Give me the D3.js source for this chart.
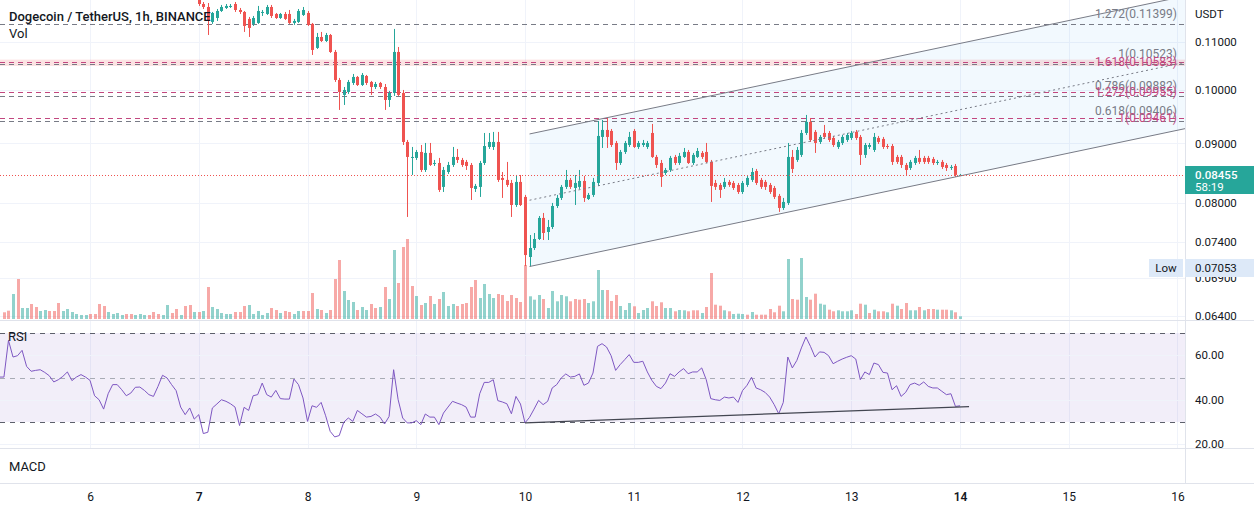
<!DOCTYPE html>
<html><head><meta charset="utf-8">
<script src="https://cdn.jsdelivr.net/npm/d3@7"></script>
<style>
html,body{margin:0;padding:0;background:#fff;}
svg{display:block;font-family:Roboto,"Noto Sans",sans-serif;}
</style></head><body>
<svg id="c" width="1254" height="511"></svg>
<script>
// ---------------- DATA ----------------
const title = "Dogecoin / TetherUS, 1h, BINANCE";
const HOUR = 3600e3;
const day10 = Date.UTC(2021, 5, 10);
// candles: hourly from 2021-06-07 00:00 UTC
const candleStart = Date.UTC(2021, 5, 7);
const open = [
0.12004,0.11862,0.11792,0.11448,0.11538,0.11699,0.11769,0.11792,0.11862,0.11722,
0.11676,0.11516,0.11403,0.11425,0.11653,0.11630,0.11792,0.11630,0.11538,0.11630,
0.11630,0.11425,0.11448,0.11607,0.11653,0.11403,0.10873,0.11112,0.11024,0.11156,
0.10787,0.10205,0.09907,0.09965,0.10145,0.10266,0.10104,0.10286,0.10165,0.10064,
0.10145,0.10064,0.09809,0.09946,0.10787,0.09946,0.09026,0.08745,0.08745,0.08849,
0.08539,0.08832,0.08641,0.08658,0.08257,0.08505,0.08624,0.08762,0.08710,0.08676,
0.08624,0.08224,0.08257,0.08658,0.08937,0.08937,0.09026,0.08405,0.08372,0.08322,
0.07967,0.08339,0.08095,0.07187,0.07316,0.07448,0.07765,0.07552,0.07627,0.07951,
0.08079,0.08257,0.08372,0.08240,0.08257,0.08355,0.08062,0.08127,0.08322,0.09116,
0.09243,0.09225,0.09008,0.08658,0.08849,0.08972,0.09225,0.08937,0.08972,0.08937,
0.09188,0.08762,0.08658,0.08488,0.08539,0.08762,0.08658,0.08762,0.08849,0.08658,
0.08762,0.08832,0.08849,0.08676,0.08322,0.08289,0.08257,0.08339,0.08322,0.08289,
0.08175,0.08289,0.08372,0.08522,0.08372,0.08339,0.08289,0.08240,0.08111,0.07920,
0.07999,0.08762,0.08710,0.08797,0.09188,0.09391,0.09207,0.09026,0.09188,0.09188,
0.09098,0.08937,0.09008,0.09062,0.09098,0.09207,0.09116,0.08797,0.08937,0.08884,
0.09098,0.09080,0.08954,0.08954,0.08762,0.08762,0.08624,0.08573,0.08658,0.08745,
0.08745,0.08745,0.08727,0.08658,0.08676,0.08624,0.08573,0.08607,0.08438];
const high = [
0.12100,0.11909,0.11885,0.11676,0.11745,0.11839,0.11862,0.11862,0.11909,0.11769,
0.11699,0.11561,0.11584,0.11816,0.11722,0.11839,0.11839,0.11653,0.11653,0.11676,
0.11722,0.11516,0.11745,0.11792,0.11699,0.11425,0.11201,0.11223,0.11201,0.11178,
0.10830,0.10246,0.10064,0.10205,0.10327,0.10286,0.10347,0.10307,0.10185,0.10165,
0.10165,0.10124,0.09985,0.11290,0.10894,0.10005,0.09062,0.08937,0.08884,0.08972,
0.09008,0.09008,0.08710,0.08745,0.08590,0.08676,0.08937,0.08902,0.08745,0.08710,
0.08658,0.08306,0.08693,0.09188,0.09188,0.09207,0.09207,0.08505,0.08676,0.08372,
0.08455,0.08455,0.08127,0.07507,0.07537,0.07795,0.07842,0.07734,0.07999,0.08127,
0.08289,0.08539,0.08405,0.08455,0.08539,0.08438,0.08159,0.08405,0.09409,0.09428,
0.09465,0.09261,0.09044,0.08884,0.09044,0.09207,0.09261,0.09044,0.09062,0.09044,
0.09354,0.08797,0.08710,0.08573,0.08780,0.08797,0.08832,0.08919,0.08884,0.08832,
0.08919,0.08866,0.09008,0.08710,0.08372,0.08322,0.08405,0.08372,0.08355,0.08322,
0.08355,0.08438,0.08573,0.08556,0.08405,0.08372,0.08322,0.08273,0.08143,0.08079,
0.09008,0.08884,0.08937,0.09243,0.09522,0.09465,0.09243,0.09152,0.09335,0.09225,
0.09134,0.09062,0.09152,0.09188,0.09225,0.09243,0.09152,0.09008,0.09008,0.09188,
0.09134,0.09116,0.08990,0.08990,0.08797,0.08797,0.08658,0.08710,0.08780,0.08884,
0.08780,0.08780,0.08762,0.08710,0.08710,0.08658,0.08624,0.08641,0.08472];
const low = [
0.11816,0.11745,0.11156,0.11403,0.11470,0.11676,0.11745,0.11769,0.11676,0.11630,
0.11223,0.11112,0.11357,0.11403,0.11584,0.11607,0.11538,0.11516,0.11516,0.11493,
0.11403,0.11380,0.11425,0.11584,0.11357,0.10723,0.10851,0.11002,0.11002,0.10766,
0.10165,0.09617,0.09712,0.09926,0.10104,0.10084,0.10084,0.10104,0.09907,0.10024,
0.10024,0.09617,0.09674,0.09887,0.09887,0.08972,0.07780,0.08455,0.08710,0.08505,
0.08505,0.08607,0.08607,0.08175,0.08175,0.08472,0.08590,0.08658,0.08590,0.08539,
0.08046,0.08175,0.08095,0.08624,0.08902,0.08884,0.08339,0.08079,0.08257,0.07780,
0.07936,0.07951,0.07060,0.07053,0.07287,0.07433,0.07433,0.07433,0.07597,0.07920,
0.08046,0.08224,0.08224,0.07967,0.08224,0.08015,0.08046,0.08095,0.08273,0.08919,
0.08919,0.08937,0.08539,0.08624,0.08814,0.08937,0.08919,0.08902,0.08937,0.08902,
0.08745,0.08573,0.08257,0.08455,0.08505,0.08624,0.08624,0.08745,0.08641,0.08624,
0.08745,0.08727,0.08658,0.08015,0.08208,0.08079,0.08224,0.08257,0.08208,0.08143,
0.08143,0.08257,0.08339,0.08289,0.08224,0.08208,0.08143,0.08062,0.07858,0.07889,
0.07967,0.08488,0.08676,0.08762,0.09152,0.09026,0.08832,0.08990,0.09080,0.09026,
0.08937,0.08902,0.08972,0.09026,0.09062,0.09062,0.08624,0.08745,0.08902,0.08849,
0.08990,0.08902,0.08902,0.08624,0.08641,0.08573,0.08455,0.08539,0.08624,0.08641,
0.08641,0.08641,0.08624,0.08624,0.08556,0.08522,0.08539,0.08422,0.08438];
const close = [
0.11862,0.11792,0.11493,0.11653,0.11699,0.11792,0.11816,0.11816,0.11722,0.11676,
0.11357,0.11312,0.11538,0.11699,0.11676,0.11792,0.11584,0.11538,0.11630,0.11516,
0.11425,0.11470,0.11699,0.11722,0.11380,0.10830,0.11112,0.11024,0.11156,0.10787,
0.10205,0.09965,0.10005,0.10165,0.10266,0.10104,0.10307,0.10145,0.10064,0.10124,
0.10064,0.09809,0.09946,0.10787,0.09907,0.09026,0.08762,0.08762,0.08849,0.08539,
0.08832,0.08624,0.08658,0.08208,0.08539,0.08624,0.08762,0.08710,0.08624,0.08607,
0.08240,0.08273,0.08658,0.08954,0.09026,0.09026,0.08372,0.08372,0.08289,0.07967,
0.08339,0.07967,0.07215,0.07316,0.07448,0.07765,0.07537,0.07627,0.07951,0.08079,
0.08257,0.08372,0.08257,0.08322,0.08355,0.08079,0.08127,0.08339,0.09134,0.09243,
0.09116,0.08972,0.08658,0.08849,0.09008,0.09116,0.08937,0.09008,0.09008,0.09008,
0.08762,0.08624,0.08422,0.08539,0.08745,0.08658,0.08780,0.08849,0.08658,0.08797,
0.08866,0.08762,0.08676,0.08273,0.08257,0.08208,0.08339,0.08289,0.08240,0.08175,
0.08322,0.08405,0.08505,0.08322,0.08257,0.08257,0.08175,0.08095,0.07920,0.08015,
0.08762,0.08556,0.08884,0.09188,0.09391,0.09062,0.09008,0.09116,0.09116,0.09062,
0.08972,0.09026,0.09116,0.09152,0.09188,0.09098,0.08797,0.08972,0.08972,0.09116,
0.09026,0.08937,0.08937,0.08676,0.08676,0.08624,0.08539,0.08676,0.08745,0.08676,
0.08676,0.08676,0.08658,0.08676,0.08590,0.08573,0.08590,0.08455,0.08455];
// volume (millions), hourly from 2021-06-05 05:00 UTC
const volStart = Date.UTC(2021, 5, 5, 5);
const volume = [
6.7,8.3,25,40,11,11,15,12,8,9, 8,8,16,8,10,7,5,4,4,5,
5,15,13,7,5,6,4,5,5,4, 5,4,4,7,5,4,14,6,10,4,
13,14,7,7,8,32,12,10,6,5, 5,7,7,13,14,5,8,4,6,11,
9,6,8,7,5,8,8,8,26,10, 9,6,9,40,59,28,19,17,9,12,
9,15,11,12,32,20,69,36,72,80, 33,23,14,16,23,15,20,27,13,15,
13,15,16,32,39,21,35,25,21,25, 24,18,24,21,17,54,
22.7,19.3,24,20,11,28,17.7,24,22.7,17.7,20,19.3,20,16,
17.7,49,29,29,18,24,13,9,16,12.7, 6,9,11,17.7,13,16.7,11,11,7.7,9,
8.7,7.7,8.7,8.7,6,12,46,14.3,13.3,8.7, 7.7,5,5.3,5,4.3,7,4.3,4.3,4.3,10,
6.7,13.3,7.7,60,20,19.3,61,22,19.3,25.3, 15.3,14.3,9.3,7.7,8.7,7.7,7.7,8.7,5,15.3,
14.3,6,9.3,7.7,7.7,6.7,15.3,13.3,10,16, 8.7,8.7,12,8.7,10,10,9.3,9.3,9.3,8.7,
6.7,2.7];
const volumeDir =
"dduduudduu"+"ddduuuuuud"+"ddduuuuddu"+"uuddduuddu"+"ddududuuuu"+"uddduuuuud"+
"dudduudddu"+"duddduuudu"+"udduduuddd"+"dudududuuu"+"ddddduuuud"+"dddddd"+
"uuuduuuuuddddu"+
"uuuddduuud"+"uuuddduudu"+"uddduddddu"+"duuududddd"+"dduudduudd"+"uudduuuudd"+
"ududdududd"+"uududduddu"+"du";
// RSI(14), hourly from 2021-06-05 04:00 UTC
const rsiStart = Date.UTC(2021, 5, 5, 4);
const rsi = [
50.2,50.2,66.7,59.2,59.8,62.2,55.0,52.8,53.2,53.5, 52.3,50.8,48.0,49.0,50.5,52.5,48.6,50.2,51.3,50.2,
48.7,41.8,40.0,35.8,42.7,46.8,46.8,44.5,41.8,43.0, 45.6,45.7,44.2,42.3,41.5,46.0,51.0,49.8,46.8,44.1,
36.7,33.3,36.3,31.3,33.3,24.8,25.4,36.3,38.1,40.0, 39.3,38.2,36.7,28.4,36.6,35.2,41.8,42.3,47.5,42.3,
41.2,44.2,40.5,40.3,40.3,49.3,46.8,40.8,30.3,37.3, 36.6,38.8,32.8,25.8,23.3,23.9,29.9,31.8,30.3,35.2,
33.7,32.2,32.5,33.6,32.2,29.1,32.5,53.5,40.0,31.8, 29.6,29.6,30.6,28.8,
33.6,32.2,32.2,28.8,34.0,36.7,39.3,38.5,37.8,36.7, 32.2,32.2,42.7,47.8,47.8,49.0,39.6,39.0,38.2,33.7,
41.5,38.1,29.6,32.1,35.8,39.7,37.8,39.3,45.3,46.8, 49.8,51.6,50.2,50.5,51.6,46.5,47.5,52.0,64.0,65.2,
63.7,59.8,53.2,55.8,58.0,60.3,56.8,56.8,57.3,52.5, 48.7,46.0,45.0,47.5,51.7,50.5,52.5,54.0,51.7,52.5,
52.5,54.3,49.0,40.5,40.0,39.7,41.2,40.8,41.2,38.8, 44.1,46.5,50.1,45.3,44.5,43.3,41.2,37.8,33.7,38.8,
59.2,54.3,57.7,63.3,68.2,64.0,59.2,61.5,61.3,59.8, 56.2,57.3,58.3,59.1,59.8,58.3,49.0,52.5,51.3,56.5,
55.8,52.3,52.0,44.5,46.3,41.5,43.3,46.8,47.5,46.5, 48.0,46.0,45.3,45.3,43.8,42.3,42.7,37.0,37.3];
// Fibonacci levels
const fibGrayRatios = ["0.618","0.786","1","1.272"];
const fibGrayPrices = [0.09406,0.09882,0.10523,0.11399];
const fibPinkRatios = ["1","1.272","1.618"];
const fibPinkPrices = [0.09461,0.09955,0.10583];
// parallel channel anchors
const channelStart = Date.UTC(2021, 5, 10, 1);
const channelEnd = Date.UTC(2021, 5, 14, 0);
const channelLowStart = 0.07053, channelLowEnd = 0.08438, channelHighStart = 0.09170;
// RSI trend line anchors
const rsiTrendTimes = [Date.UTC(2021,5,10,0), Date.UTC(2021,5,14,2)];
const rsiTrendValues = [29.6, 36.9];
// axis ticks / labels
const priceTicks = [0.11, 0.10, 0.09, 0.08, 0.074, 0.069, 0.064];
const rsiTicks = [60, 40, 20];
const dayTicks = [6,7,8,9,10,11,12,13,14,15,16];
const boldDays = [7, 14];
const lastPrice = 0.08455, countdown = "58:19";
const lowPrice = 0.07053;

// ---------------- LAYOUT ----------------
const W = 1254, H = 511, AX = 1185;
const mainTop = 0, mainBot = 320, rsiTop = 322, rsiBot = 448, macdBot = 483;
const GREEN = "#26a69a", RED = "#ef5350", GRID = "#f0f3fa", TXT = "#131722";
const PINK = "#c2477f";
const svg = d3.select("#c");

const x = d3.scaleUtc()
  .domain([new Date(day10 - 115.87*HOUR), new Date(day10 + 145.66*HOUR)])
  .range([0, AX]);
const y = d3.scaleLog().domain([0.06344, 0.11956]).range([mainBot, mainTop]);
const yv = d3.scaleLinear().domain([0, 80]).range([319, 239]);
const yr = d3.scaleLinear().domain([70, 30]).range([333, 422]);

const defs = svg.append("defs");
defs.append("clipPath").attr("id","clipMain").append("rect").attr("x",0).attr("y",mainTop).attr("width",AX).attr("height",mainBot-mainTop);
defs.append("clipPath").attr("id","clipRsi").append("rect").attr("x",0).attr("y",rsiTop).attr("width",AX).attr("height",rsiBot-rsiTop);

svg.append("rect").attr("width",W).attr("height",H).attr("fill","#fff");

// grid
const grid = svg.append("g");
dayTicks.forEach(d => {
  const xx = Math.round(x(new Date(Date.UTC(2021,5,d)))) + 0.5;
  grid.append("line").attr("x1",xx).attr("x2",xx).attr("y1",0).attr("y2",rsiBot).attr("stroke",GRID);
});
priceTicks.forEach(p => {
  const yy = Math.round(y(p)) + 0.5;
  grid.append("line").attr("x1",0).attr("x2",AX).attr("y1",yy).attr("y2",yy).attr("stroke",GRID);
});

// main pane
const main = svg.append("g").attr("clip-path","url(#clipMain)");

// channel fill
const cx1 = x(new Date(channelStart)), cx2 = x(new Date(channelEnd));
const cyl1 = y(channelLowStart), cyl2 = y(channelLowEnd);
const off = cyl1 - y(channelHighStart);
const slope = (cyl2 - cyl1) / (cx2 - cx1);
const cylR = cyl1 + slope * (AX - cx1);
main.append("path")
  .attr("d", d3.line()([[cx1,cyl1-off],[AX,cylR-off],[AX,cylR],[cx1,cyl1]]) + "Z")
  .attr("fill","rgba(33,150,243,0.06)");

// fib band
main.append("rect").attr("x",0).attr("width",AX)
  .attr("y", y(fibPinkPrices[2]) - 2).attr("height", y(fibGrayPrices[2]) - y(fibPinkPrices[2]) + 3.5)
  .attr("fill","rgba(239,83,80,0.16)");

// fib lines
fibGrayPrices.forEach(p => {
  const yy = Math.round(y(p)) + 0.5;
  main.append("line").attr("x1",0).attr("x2",AX).attr("y1",yy).attr("y2",yy)
    .attr("stroke","#787b86").attr("stroke-dasharray","5,4");
});
fibPinkPrices.forEach(p => {
  const yy = Math.round(y(p)) + 0.5;
  main.append("line").attr("x1",0).attr("x2",AX).attr("y1",yy).attr("y2",yy)
    .attr("stroke",PINK).attr("stroke-dasharray","5,4");
});

// volume
const vw = 3;
main.append("g").selectAll("rect").data(volume).join("rect")
  .attr("x", (v,i) => Math.round(x(new Date(volStart + i*HOUR))) - 1)
  .attr("width", vw)
  .attr("y", v => yv(v))
  .attr("height", v => yv(0) - yv(v))
  .attr("fill", (v,i) => volumeDir[i] === "u" ? "rgba(38,166,154,0.5)" : "rgba(239,83,80,0.5)");

// candles
const candles = open.map((o,i) => ({t:new Date(candleStart + i*HOUR), o, h:high[i], l:low[i], c:close[i]}));
const cg = main.append("g");
candles.forEach(d => {
  const xx = Math.round(x(d.t));
  const col = d.c >= d.o ? GREEN : RED;
  cg.append("line").attr("x1",xx+0.5).attr("x2",xx+0.5).attr("y1",y(d.h)).attr("y2",y(d.l)).attr("stroke",col);
  const top = Math.min(y(d.o), y(d.c)), bot = Math.max(y(d.o), y(d.c));
  cg.append("rect").attr("x",xx-1).attr("width",3).attr("y",top).attr("height",Math.max(1,bot-top)).attr("fill",col);
});

// channel lines
[[0,"none"],[off,"none"],[off/2,"2,3"]].forEach(([o,dash]) => {
  main.append("line").attr("x1",cx1).attr("y1",cyl1-o).attr("x2",AX).attr("y2",cylR-o)
    .attr("stroke","#787b86").attr("stroke-width",1).attr("stroke-dasharray",dash);
});

// last price line
main.append("line").attr("x1",0).attr("x2",AX).attr("y1",Math.round(y(lastPrice))+0.5).attr("y2",Math.round(y(lastPrice))+0.5)
  .attr("stroke",RED).attr("stroke-dasharray","1,2");

// fib labels
const fl = svg.append("g").attr("font-size","12px").attr("text-anchor","end");
fibGrayPrices.forEach((p,i) => {
  fl.append("text").attr("x",1177).attr("y",Math.round(y(p))-6).attr("fill","#787b86")
    .text(fibGrayRatios[i] + "(" + p.toFixed(5) + ")");
});
fibPinkPrices.forEach((p,i) => {
  fl.append("text").attr("x",1177).attr("y",Math.round(y(p))+4).attr("fill",PINK)
    .text(fibPinkRatios[i] + "(" + p.toFixed(5) + ")");
});

// RSI pane
const rp = svg.append("g").attr("clip-path","url(#clipRsi)");
rp.append("rect").attr("x",0).attr("width",AX).attr("y",yr(70)).attr("height",yr(30)-yr(70)).attr("fill","rgba(126,87,194,0.1)");
rsiTicks.forEach(v => {
  const yy = Math.round(yr(v))+0.5;
  rp.append("line").attr("x1",0).attr("x2",AX).attr("y1",yy).attr("y2",yy).attr("stroke",GRID);
});
[[70,"#5d606b"],[50,"#a8abb5"],[30,"#5d606b"]].forEach(([v,c]) => {
  const yy = Math.round(yr(v))+0.5;
  rp.append("line").attr("x1",0).attr("x2",AX).attr("y1",yy).attr("y2",yy).attr("stroke",c).attr("stroke-dasharray","5,5");
});
rp.append("path").datum(rsi)
  .attr("d", d3.line().x((v,i) => x(new Date(rsiStart + i*HOUR))).y(v => yr(v)))
  .attr("fill","none").attr("stroke","#7e57c2").attr("stroke-width",1);
rp.append("line")
  .attr("x1", x(new Date(rsiTrendTimes[0]))).attr("y1", yr(rsiTrendValues[0]))
  .attr("x2", x(new Date(rsiTrendTimes[1]))).attr("y2", yr(rsiTrendValues[1]))
  .attr("stroke","#434651").attr("stroke-width",1.3);

// separators
[[0,mainBot+0.5,W,mainBot+0.5],[0,rsiBot+0.5,W,rsiBot+0.5],[0,macdBot+0.5,W,macdBot+0.5],[AX+0.5,0,AX+0.5,macdBot]].forEach(([a,b,c,d]) => {
  svg.append("line").attr("x1",a).attr("y1",b).attr("x2",c).attr("y2",d).attr("stroke","#e0e3eb");
});

// price axis
const pa = svg.append("g").attr("transform",`translate(${AX},0)`)
  .call(d3.axisRight(y).tickValues(priceTicks).tickFormat(d3.format(".5f")).tickSize(0).tickPadding(10));
pa.select(".domain").remove();
pa.selectAll("text").attr("font-size","11.5px").attr("fill",TXT).attr("font-family","Roboto,sans-serif");
svg.append("text").attr("x",1195).attr("y",18).attr("font-size","11.5px").attr("fill",TXT).text("USDT");

// RSI axis
const ra = svg.append("g").attr("transform",`translate(${AX},0)`)
  .call(d3.axisRight(yr).tickValues(rsiTicks).tickFormat(d3.format(".2f")).tickSize(0).tickPadding(10));
ra.select(".domain").remove();
ra.selectAll("text").attr("font-size","11.5px").attr("fill",TXT).attr("font-family","Roboto,sans-serif");

// low label
const ly = Math.round(y(lowPrice)) + 1;
svg.append("rect").attr("x",AX).attr("y",ly-9).attr("width",W-AX).attr("height",18).attr("fill","#dde9f8");
svg.append("text").attr("x",1195).attr("y",ly+4).attr("font-size","11.5px").attr("fill",TXT).text(lowPrice.toFixed(5));
svg.append("rect").attr("x",1149).attr("y",ly-9).attr("width",34).attr("height",18).attr("fill","#dde9f8");
svg.append("text").attr("x",1166).attr("y",ly+4).attr("text-anchor","middle").attr("font-size","11.5px").attr("fill",TXT).text("Low");

// last price label
const lp = Math.round(y(lastPrice));
svg.append("rect").attr("x",AX).attr("y",lp-9).attr("width",W-AX).attr("height",28).attr("fill",GREEN);
svg.append("text").attr("x",1195).attr("y",lp+4).attr("font-size","11.5px").attr("font-weight",500).attr("fill","#fff").text(lastPrice.toFixed(5));
svg.append("text").attr("x",1195).attr("y",lp+16).attr("font-size","11.5px").attr("fill","#fff").text(countdown);

// time axis
const ta = svg.append("g").attr("transform",`translate(0,${macdBot})`)
  .call(d3.axisBottom(x).tickValues(dayTicks.map(d => new Date(Date.UTC(2021,5,d)))).tickFormat(d => d.getUTCDate()).tickSize(0).tickPadding(9));
ta.select(".domain").remove();
ta.selectAll("text").attr("font-size","12px").attr("fill",TXT).attr("font-family","Roboto,sans-serif")
  .attr("font-weight", d => boldDays.includes(d.getUTCDate()) ? 600 : 400);

// legends
svg.append("text").attr("x",9).attr("y",21).attr("font-size","13px").attr("font-weight",500).attr("fill",TXT).text(title);
svg.append("text").attr("x",9).attr("y",38).attr("font-size","13px").attr("fill",TXT).text("Vol");
svg.append("text").attr("x",8).attr("y",341).attr("font-size","13px").attr("fill",TXT).text("RSI");
svg.append("text").attr("x",9).attr("y",471).attr("font-size","13px").attr("fill",TXT).text("MACD");
</script>
</body></html>
